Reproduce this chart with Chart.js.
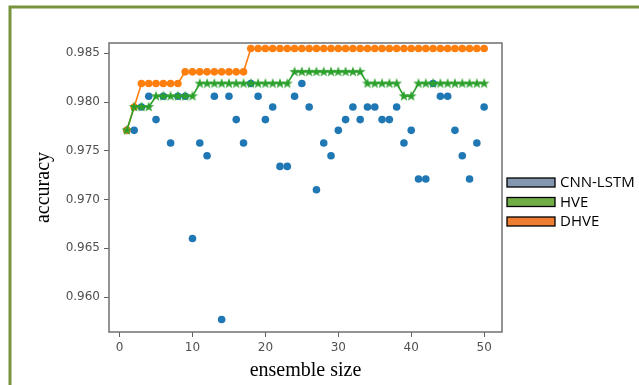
<!DOCTYPE html>
<html>
<head>
<meta charset="utf-8">
<script src="https://cdn.jsdelivr.net/npm/chart.js@4.4.1/dist/chart.umd.min.js"></script>
<style>
html, body { margin: 0; padding: 0; background: #fff; overflow: hidden; width: 639px; height: 385px; }
canvas { display: block; }
</style>
</head>
<body>
<canvas id="chart" width="639" height="385"></canvas>
<script>
var ensembleSize = [1, 2, 3, 4, 5, 6, 7, 8, 9, 10, 11, 12, 13, 14, 15, 16, 17, 18, 19, 20,
  21, 22, 23, 24, 25, 26, 27, 28, 29, 30, 31, 32, 33, 34, 35, 36, 37, 38, 39, 40,
  41, 42, 43, 44, 45, 46, 47, 48, 49, 50];

var cnnLstm = [0.9771, 0.9771, 0.9795, 0.9806, 0.9782, 0.9806, 0.9758, 0.9806, 0.9806, 0.9660,
  0.9758, 0.9745, 0.9806, 0.9577, 0.9806, 0.9782, 0.9758, 0.9819, 0.9806, 0.9782,
  0.9795, 0.9734, 0.9734, 0.9806, 0.9819, 0.9795, 0.9710, 0.9758, 0.9745, 0.9771,
  0.9782, 0.9795, 0.9782, 0.9795, 0.9795, 0.9782, 0.9782, 0.9795, 0.9758, 0.9771,
  0.9721, 0.9721, 0.9819, 0.9806, 0.9806, 0.9771, 0.9745, 0.9721, 0.9758, 0.9795];

var hve = [0.9771, 0.9795, 0.9795, 0.9795, 0.9806, 0.9806, 0.9806, 0.9806, 0.9806, 0.9806,
  0.9819, 0.9819, 0.9819, 0.9819, 0.9819, 0.9819, 0.9819, 0.9819, 0.9819, 0.9819,
  0.9819, 0.9819, 0.9819, 0.9831, 0.9831, 0.9831, 0.9831, 0.9831, 0.9831, 0.9831,
  0.9831, 0.9831, 0.9831, 0.9819, 0.9819, 0.9819, 0.9819, 0.9819, 0.9806, 0.9806,
  0.9819, 0.9819, 0.9819, 0.9819, 0.9819, 0.9819, 0.9819, 0.9819, 0.9819, 0.9819];

var dhve = [0.9771, 0.9795, 0.9819, 0.9819, 0.9819, 0.9819, 0.9819, 0.9819, 0.9831, 0.9831,
  0.9831, 0.9831, 0.9831, 0.9831, 0.9831, 0.9831, 0.9831, 0.9855, 0.9855, 0.9855,
  0.9855, 0.9855, 0.9855, 0.9855, 0.9855, 0.9855, 0.9855, 0.9855, 0.9855, 0.9855,
  0.9855, 0.9855, 0.9855, 0.9855, 0.9855, 0.9855, 0.9855, 0.9855, 0.9855, 0.9855,
  0.9855, 0.9855, 0.9855, 0.9855, 0.9855, 0.9855, 0.9855, 0.9855, 0.9855, 0.9855];

var xTicks = [0, 10, 20, 30, 40, 50];
var yTicks = [0.960, 0.965, 0.970, 0.975, 0.980, 0.985];

var seriesNames = ['CNN-LSTM', 'HVE', 'DHVE'];
var legendColors = ['#8497b0', '#70ad47', '#ed7d31'];

function pairs(vals) {
  return vals.map(function(v, i) { return { x: ensembleSize[i], y: v }; });
}

// matplotlib-like filled star marker
function makeStar(color) {
  var c = document.createElement('canvas');
  c.width = 12; c.height = 12;
  var g = c.getContext('2d');
  g.fillStyle = color;
  g.beginPath();
  for (var i = 0; i < 10; i++) {
    var r = i % 2 === 0 ? 5.6 : 2.3;
    var a = -Math.PI / 2 + i * Math.PI / 5;
    g.lineTo(6 + r * Math.cos(a), 6 + r * Math.sin(a));
  }
  g.closePath();
  g.fill();
  return c;
}

var paper = {
  id: 'paper',
  beforeDraw: function(chart) {
    var ctx = chart.ctx;
    ctx.save();
    ctx.fillStyle = '#fff';
    ctx.fillRect(0, 0, chart.width, chart.height);
    ctx.strokeStyle = '#77933c';
    ctx.lineWidth = 3;
    ctx.beginPath();
    ctx.moveTo(10, 385);
    ctx.lineTo(10, 7);
    ctx.lineTo(639, 7);
    ctx.stroke();
    ctx.restore();
  },
  afterDraw: function(chart) {
    var ctx = chart.ctx;
    var a = chart.chartArea;
    ctx.save();
    ctx.strokeStyle = '#707070';
    ctx.lineWidth = 1.5;
    ctx.strokeRect(a.left, a.top, a.right - a.left, a.bottom - a.top);

    ctx.font = '15px "Open Sans"';
    ctx.textBaseline = 'middle';
    for (var i = 0; i < seriesNames.length; i++) {
      var y = 178 + i * 19.5;
      ctx.fillStyle = legendColors[i];
      ctx.fillRect(507, y, 48, 9);
      ctx.strokeStyle = '#000';
      ctx.lineWidth = 1.3;
      ctx.strokeRect(507, y, 48, 9);
      ctx.fillStyle = '#000';
      ctx.fillText(seriesNames[i], 560, y + 5);
    }
    ctx.restore();
  }
};

new Chart(document.getElementById('chart'), {
  type: 'line',
  data: {
    datasets: [
      {
        label: seriesNames[1],
        data: pairs(hve),
        borderColor: '#2ca02c',
        backgroundColor: '#2ca02c',
        borderWidth: 1.6,
        pointStyle: makeStar('#2ca02c'),
        order: 0
      },
      {
        label: seriesNames[2],
        data: pairs(dhve),
        borderColor: '#ff7f0e',
        backgroundColor: '#ff7f0e',
        borderWidth: 1.6,
        pointRadius: 3.8,
        pointBorderWidth: 0,
        order: 1
      },
      {
        label: seriesNames[0],
        data: pairs(cnnLstm),
        showLine: false,
        borderColor: '#1f77b4',
        backgroundColor: '#1f77b4',
        pointRadius: 3.8,
        pointBorderWidth: 0,
        order: 2
      }
    ]
  },
  options: {
    responsive: false,
    animation: false,
    layout: { padding: { top: 43, right: 137, left: 0, bottom: 0 } },
    plugins: { legend: { display: false }, tooltip: { enabled: false } },
    elements: { line: { tension: 0 } },
    scales: {
      x: {
        type: 'linear',
        min: -1.45,
        max: 52.45,
        afterFit: function(s) { s.height = 53; },
        afterBuildTicks: function(s) { s.ticks = xTicks.map(function(v) { return { value: v }; }); },
        grid: { drawOnChartArea: false, drawTicks: true, tickLength: 5, color: '#606060' },
        border: { display: false },
        ticks: { color: '#505050', font: { family: 'DejaVu Sans', size: 12 }, padding: 4, maxRotation: 0 },
        title: {
          display: true,
          text: 'ensemble size',
          color: '#000',
          font: { family: 'Liberation Serif', size: 20 },
          padding: { top: 0, bottom: 2 }
        }
      },
      y: {
        min: 0.95641,
        max: 0.98606,
        afterFit: function(s) { s.width = 109; },
        afterBuildTicks: function(s) { s.ticks = yTicks.map(function(v) { return { value: v }; }); },
        grid: { drawOnChartArea: false, drawTicks: true, tickLength: 5, color: '#606060' },
        border: { display: false },
        ticks: {
          color: '#505050',
          font: { family: 'DejaVu Sans', size: 12 },
          padding: 4,
          callback: function(v) { return v.toFixed(3); }
        },
        title: {
          display: true,
          text: 'accuracy',
          color: '#000',
          font: { family: 'Liberation Serif', size: 20 },
          padding: { top: 32, bottom: 0 }
        }
      }
    }
  },
  plugins: [paper]
});
</script>
</body>
</html>
